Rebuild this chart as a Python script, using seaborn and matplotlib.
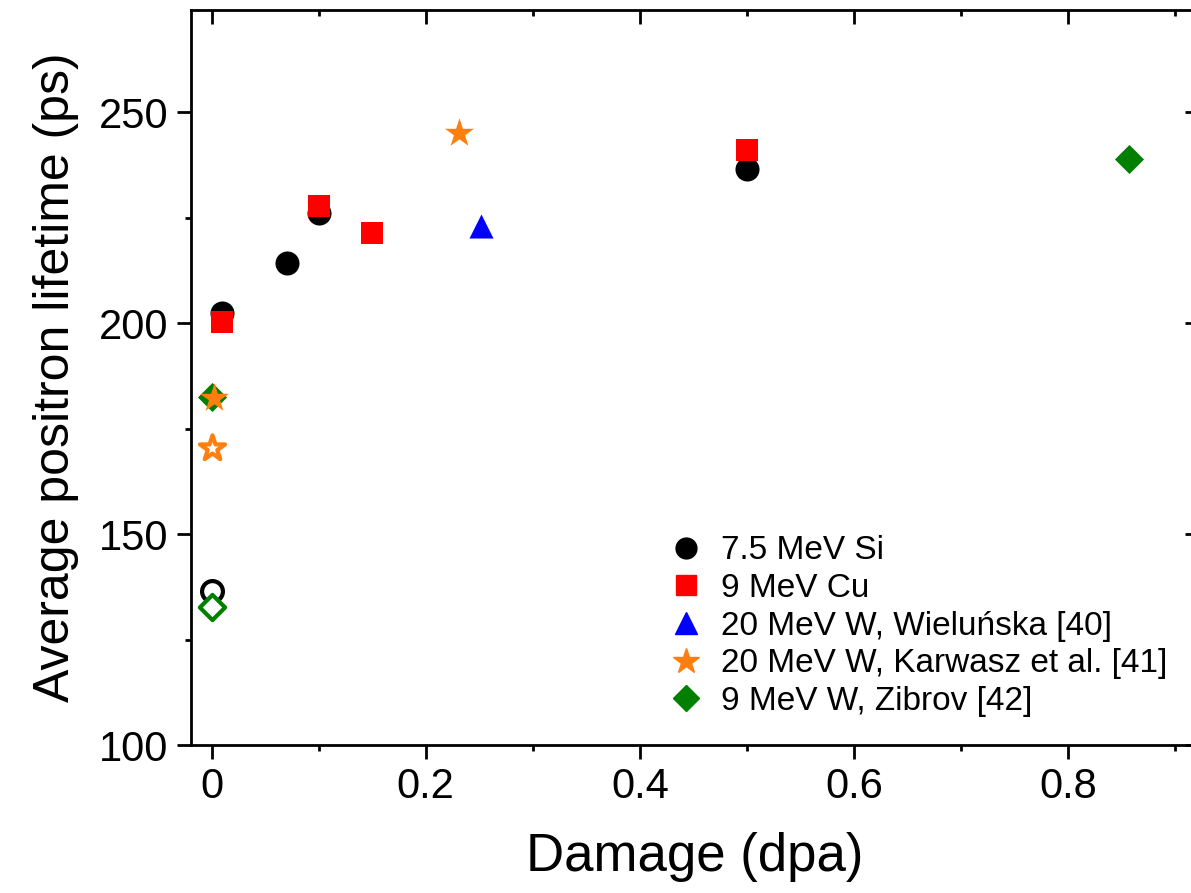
import seaborn as sns
import matplotlib.pyplot as plt
import pandas as pd
import numpy as np
from matplotlib.ticker import MultipleLocator

sns.set_style("white")
plt.rcParams['font.family'] = ['Liberation Sans', 'DejaVu Sans']
plt.rcParams['text.color'] = 'black'
plt.rcParams['axes.labelcolor'] = 'black'
plt.rcParams['xtick.color'] = 'black'
plt.rcParams['ytick.color'] = 'black'

series_names = ["7.5 MeV Si", "9 MeV Cu", "20 MeV W, Wieluńska [40]",
                "20 MeV W, Karwasz et al. [41]", "9 MeV W, Zibrov [42]"]
series_colors = ["black", "#ff0000", "#0000ff", "#ff7f0e", "#007f00"]
series_markers = ["o", "s", "^", "*", "D"]

# irradiated (filled) points
si_dpa = [0.01, 0.07, 0.10, 0.50]
si_tau = [202.3, 214.2, 226.0, 236.4]
cu_dpa = [0.01, 0.10, 0.15, 0.50]
cu_tau = [200.2, 227.8, 221.4, 241.0]
wiel_dpa = [0.252]
wiel_tau = [223.0]
karw_dpa = [0.231, 0.002]
karw_tau = [245.0, 182.2]
zib_dpa = [0.0, 0.857]
zib_tau = [182.5, 238.9]

# reference (open) points
open_series = ["7.5 MeV Si", "20 MeV W, Karwasz et al. [41]", "9 MeV W, Zibrov [42]"]
open_dpa = [0.0, 0.0, 0.0]
open_tau = [136.6, 170.3, 132.8]

rows = []
for name, xs, ys in zip(series_names,
                        [si_dpa, cu_dpa, wiel_dpa, karw_dpa, zib_dpa],
                        [si_tau, cu_tau, wiel_tau, karw_tau, zib_tau]):
    for x, y in zip(xs, ys):
        rows.append({"dpa": x, "tau": y, "series": name})
df = pd.DataFrame(rows)
df_open = pd.DataFrame({"dpa": open_dpa, "tau": open_tau, "series": open_series})

palette = dict(zip(series_names, series_colors))
markers = dict(zip(series_names, series_markers))
sizes = {"o": 300, "s": 260, "^": 300, "*": 480, "D": 220}

fig = plt.figure(figsize=(11.91, 8.93), dpi=100)
# the right spine sits just outside the picture, as in the original crop
ax = fig.add_axes([0.160, 0.1657, 0.8467, 0.8231])

# draw series in order so stars lie above diamonds at 0 dpa
draw_order = ["9 MeV W, Zibrov [42]", "7.5 MeV Si", "9 MeV Cu",
              "20 MeV W, Wieluńska [40]", "20 MeV W, Karwasz et al. [41]"]
for name in draw_order:
    sub = df[df.series == name]
    sns.scatterplot(data=sub, x="dpa", y="tau", ax=ax, color=palette[name],
                    marker=markers[name], s=sizes[markers[name]],
                    linewidth=0, legend=False, zorder=3)

for name in open_series:
    sub = df_open[df_open.series == name]
    ax.scatter(sub.dpa, sub.tau, marker=markers[name], s=sizes[markers[name]] * 0.75,
               facecolors="white", edgecolors=palette[name], linewidths=3, zorder=3)

ax.set_xlim(-0.0196, 0.922)
ax.set_ylim(100, 274.2)
ax.xaxis.set_major_locator(MultipleLocator(0.2))
ax.xaxis.set_minor_locator(MultipleLocator(0.1))
ax.yaxis.set_major_locator(MultipleLocator(50))
ax.yaxis.set_minor_locator(MultipleLocator(25))
ax.set_xticks([0, 0.2, 0.4, 0.6, 0.8])
ax.set_xticklabels(["0", "0.2", "0.4", "0.6", "0.8"])

ax.tick_params(which="both", bottom=True, left=True, top=False, right=False)
ax.tick_params(which="major", direction="out", length=10, width=2, labelsize=30, pad=6,
               colors="black")
ax.tick_params(which="minor", direction="out", length=4, width=2, colors="black")

for sp in ax.spines.values():
    sp.set_linewidth(2)
    sp.set_color("black")

top = ax.secondary_xaxis("top")
top.xaxis.set_major_locator(MultipleLocator(0.2))
top.xaxis.set_minor_locator(MultipleLocator(0.1))
top.tick_params(which="both", top=True)
top.tick_params(which="major", direction="in", length=10, width=2, labeltop=False)
top.tick_params(which="minor", direction="in", length=4, width=2)
right = ax.secondary_yaxis("right")
right.yaxis.set_major_locator(MultipleLocator(50))
right.yaxis.set_minor_locator(MultipleLocator(25))
right.tick_params(which="both", right=True)
right.tick_params(which="major", direction="in", length=10, width=2, labelright=False)
right.tick_params(which="minor", direction="in", length=4, width=2)

ax.set_xlabel("Damage (dpa)", fontsize=38, labelpad=18)
ax.set_ylabel("Average positron lifetime (ps)", fontsize=36, labelpad=14)

handles = [plt.Line2D([], [], linestyle="none", marker=m, color=c, markersize=ms)
           for m, c, ms in zip(series_markers, series_colors, [15, 14, 16, 19, 13])]
ax.legend(handles, series_names, loc="lower left", bbox_to_anchor=(0.458, 0.02),
          frameon=False, fontsize=24, handletextpad=0.45, labelspacing=0.2,
          handlelength=1.2, borderaxespad=0)

fig.savefig("out.png", dpi=100)
